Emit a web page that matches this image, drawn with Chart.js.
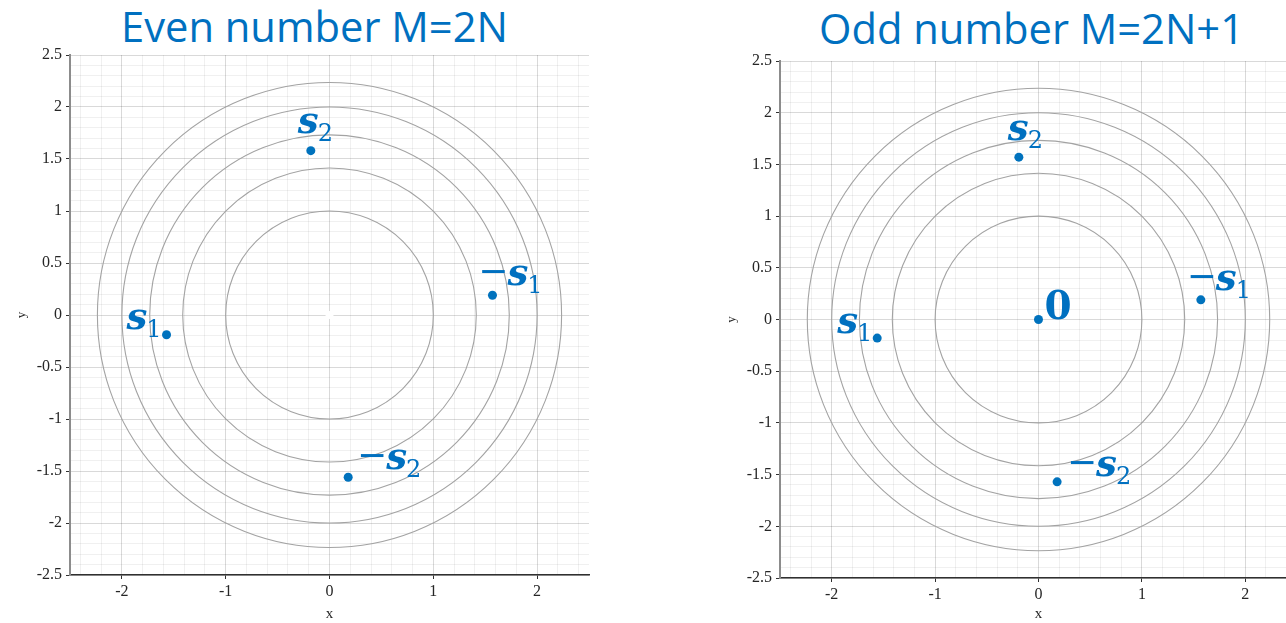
<!DOCTYPE html>
<html>
<head>
<meta charset="utf-8">
<script src="https://cdn.jsdelivr.net/npm/chart.js@4"></script>
<style>
  html, body { margin: 0; padding: 0; background: #fff; width: 1286px; height: 623px; overflow: hidden; }
  .title { position: absolute; font-family: 'Open Sans', sans-serif; font-size: 41.7px; color: #0070C0; white-space: nowrap; line-height: 1; }
  .box { position: absolute; top: 0; width: 600px; height: 623px; }
</style>
</head>
<body>
<div class="title" style="left:121px; top:5px;">Even number M=2N</div>
<div class="title" style="left:819px; top:7px;">Odd number M=2N+1</div>
<div class="box" style="left:0"><canvas id="evenChart"></canvas></div>
<div class="box" style="left:710px"><canvas id="oddChart"></canvas></div>
<script>
// data
const circleRadii = [1, 1.414, 1.732, 2, 2.236];
const xTickLabels = [-2, -1, 0, 1, 2];
const yTickLabels = [-2.5, -2, -1.5, -1, -0.5, 0, 0.5, 1, 1.5, 2, 2.5];

const evenNames = ['s1', '-s1', 's2', '-s2'];
const evenX = [-1.57, 1.57, -0.18, 0.18];
const evenY = [-0.19, 0.19, 1.58, -1.56];
const evenBlankX = [0];
const evenBlankY = [0];

const oddNames = ['0', 's1', '-s1', 's2', '-s2'];
const oddX = [0, -1.56, 1.57, -0.19, 0.18];
const oddY = [0, -0.18, 0.19, 1.57, -1.57];

// label placement (pixels from the point)
const evenLabelPos = { 's1': [-40, -6], '-s1': [15, -10], 's2': [-13, -18], '-s2': [38, -8] };
const oddLabelPos = { '0': [6, -1], 's1': [-40, -5], '-s1': [15, -10], 's2': [-11, -17], '-s2': [39, -6] };

const BLUE = '#0070C0';
const DOT = '#0072BD';
const TICK_FONT = { family: '"Liberation Serif", "DejaVu Serif", serif', size: 16 };

const near = (arr, v) => arr.some(t => Math.abs(t - v) < 1e-6);
const isFifth = v => Math.abs(v * 5 - Math.round(v * 5)) < 1e-6;

function toPoints(xs, ys) {
    return xs.map((x, i) => ({ x: x, y: ys[i] }));
}

// circles round the origin, drawn through the scales
const circlesPlugin = {
    id: 'circles',
    beforeDatasetsDraw(chart) {
        const { ctx, chartArea, scales: { x, y } } = chart;
        const cx = x.getPixelForValue(0);
        const cy = y.getPixelForValue(0);
        ctx.save();
        ctx.beginPath();
        ctx.rect(chartArea.left, chartArea.top, chartArea.right - chartArea.left, chartArea.bottom - chartArea.top);
        ctx.clip();
        ctx.strokeStyle = '#a3a3a3';
        ctx.lineWidth = 1.1;
        circleRadii.forEach(r => {
            const rx = x.getPixelForValue(r) - cx;
            const ry = cy - y.getPixelForValue(r);
            ctx.beginPath();
            ctx.ellipse(cx, cy, rx, ry, 0, 0, Math.PI * 2);
            ctx.stroke();
        });
        ctx.restore();
    }
};

// s_k labels next to the points
function drawLabel(ctx, name, px, py, off) {
    const neg = name[0] === '-';
    const core = neg ? name.slice(1) : name;
    const base = core[0];
    const sub = core.slice(1);
    const x0 = px + off[0];
    const y0 = py + off[1];
    ctx.fillStyle = BLUE;
    ctx.textBaseline = 'alphabetic';
    ctx.textAlign = 'left';
    ctx.font = base === '0' ? 'bold 39px "DejaVu Serif"' : 'italic bold 37px "DejaVu Serif"';
    ctx.fillText(base, x0, y0);
    const w = ctx.measureText(base).width;
    if (sub) {
        ctx.font = '24px "DejaVu Serif"';
        ctx.fillText(sub, x0 + w - 1, y0 + 8);
    }
    if (neg) {
        ctx.font = '36px "DejaVu Sans"';
        ctx.textAlign = 'right';
        ctx.fillText('\u2212', x0 + 1, y0 - 2);
    }
}

function labelsPlugin(names, pos) {
    return {
        id: 'pointLabels',
        afterDatasetsDraw(chart) {
            const pts = chart.getDatasetMeta(0).data;
            chart.ctx.save();
            names.forEach((n, i) => drawLabel(chart.ctx, n, pts[i].x, pts[i].y, pos[n]));
            chart.ctx.restore();
        }
    };
}

function makeOptions(pad, yWidth, xHeight, yTitlePad) {
    return {
        responsive: true,
        maintainAspectRatio: false,
        animation: false,
        layout: { padding: pad },
        plugins: {
            legend: { display: false },
            tooltip: { enabled: false }
        },
        scales: {
            x: {
                type: 'linear',
                min: -2.5,
                max: 2.5,
                afterFit: s => { s.height = xHeight; },
                border: { color: '#303030', width: 1.5 },
                grid: {
                    color: c => near(xTickLabels, c.tick.value) ? 'rgba(0,0,0,0.15)'
                        : (isFifth(c.tick.value) ? 'rgba(0,0,0,0.06)' : 'rgba(0,0,0,0)'),
                    tickColor: c => near(xTickLabels, c.tick.value) ? '#303030' : 'rgba(0,0,0,0)',
                    tickLength: 4
                },
                ticks: {
                    stepSize: 0.1,
                    autoSkip: false,
                    maxRotation: 0,
                    padding: 3,
                    color: '#262626',
                    font: TICK_FONT,
                    callback: v => near(xTickLabels, v) ? String(xTickLabels.find(t => Math.abs(t - v) < 1e-6)) : ''
                },
                title: {
                    display: true,
                    text: 'x',
                    color: '#262626',
                    font: { family: '"Liberation Serif", serif', size: 15 },
                    padding: 0
                }
            },
            y: {
                type: 'linear',
                min: -2.5,
                max: 2.5,
                afterFit: s => { s.width = yWidth; },
                border: { color: '#8c8c8c', width: 2 },
                grid: {
                    color: c => near(yTickLabels, c.tick.value) ? 'rgba(0,0,0,0.15)' : 'rgba(0,0,0,0.06)',
                    tickColor: c => near(yTickLabels, c.tick.value) ? '#303030' : 'rgba(0,0,0,0)',
                    tickLength: 4
                },
                ticks: {
                    stepSize: 0.1,
                    autoSkip: false,
                    padding: 4,
                    color: '#262626',
                    font: TICK_FONT,
                    callback: v => near(yTickLabels, v) ? String(yTickLabels.find(t => Math.abs(t - v) < 1e-6)) : ''
                },
                title: {
                    display: true,
                    text: 'y',
                    color: '#262626',
                    font: { family: '"Liberation Serif", serif', size: 13 },
                    padding: { top: yTitlePad, bottom: 0 }
                }
            }
        }
    };
}

new Chart(document.getElementById('evenChart'), {
    type: 'scatter',
    data: {
        datasets: [{
            data: toPoints(evenX, evenY),
            backgroundColor: DOT,
            borderWidth: 0,
            pointRadius: 4.5
        }, {
            data: toPoints(evenBlankX, evenBlankY),
            backgroundColor: '#ffffff',
            borderWidth: 0,
            pointRadius: 4
        }]
    },
    options: makeOptions({ top: 55, right: 11, left: 0, bottom: 0 }, 70, 48, 14),
    plugins: [circlesPlugin, labelsPlugin(evenNames, evenLabelPos)]
});

new Chart(document.getElementById('oddChart'), {
    type: 'scatter',
    data: {
        datasets: [{
            data: toPoints(oddX, oddY),
            backgroundColor: DOT,
            borderWidth: 0,
            pointRadius: 4.5
        }]
    },
    options: makeOptions({ top: 61, right: 13, left: 0, bottom: 0 }, 70, 45, 14),
    plugins: [circlesPlugin, labelsPlugin(oddNames, oddLabelPos)]
});
</script>
</body>
</html>
